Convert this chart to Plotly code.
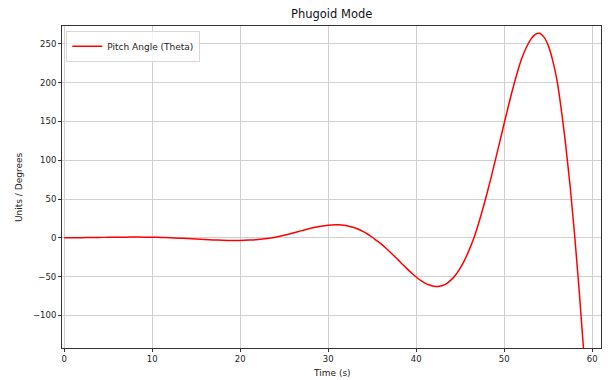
import plotly.graph_objects as go

# Phugoid pitch response samples
time_s = [0, 1, 2, 3, 4, 5, 6, 7, 8, 9, 10, 11, 12, 13, 14, 15, 16, 17, 18, 19,
          20, 21, 22, 23, 24, 25, 26, 27, 28, 29, 30, 31, 32, 33, 33.5, 34, 34.5,
          35, 35.5, 36, 36.5, 37, 37.5, 38, 38.5, 39, 39.5, 40, 40.5, 41, 41.5,
          42, 42.5, 43, 43.5, 44, 44.5, 45, 45.5, 46, 46.5, 47, 47.5, 48, 48.5,
          49, 49.5, 50, 50.5, 51, 51.5, 52, 52.5, 53, 53.5, 54, 54.5, 55, 55.5,
          56, 56.5, 57, 57.5, 58, 58.5, 59, 59.5]
theta_deg = [0.0, 0.05, 0.2, 0.35, 0.5, 0.65, 0.78, 0.88, 0.92, 0.88, 0.72, 0.45, 0.06,
             -0.4, -0.95, -1.56, -2.16, -2.72, -3.12, -3.36, -3.35, -2.94, -2.2, -1.0,
             0.8, 3.36, 6.24, 9.26, 12.21, 14.63, 16.34, 16.84, 15.8, 12.89, 10.67,
             7.88, 4.59, 0.75, -3.5, -7.9, -12.8, -18.0, -23.5, -29.1, -34.8, -40.3,
             -45.6, -50.5, -54.8, -58.3, -60.9, -62.4, -62.6, -61.4, -58.6, -53.9,
             -47.5, -39.1, -28.7, -16.2, -1.9, 15.3, 34.5, 55.2, 77.3, 100.4, 124.0,
             147.7, 170.9, 193.1, 213.5, 231.3, 245.0, 255.5, 262.0, 263.6, 259.0,
             248.0, 229.0, 203.0, 164.0, 118.5, 65.5, 4.0, -65.0, -141.0, -223.6]

x_ticks = [0, 10, 20, 30, 40, 50, 60]
y_ticks = [-100, -50, 0, 50, 100, 150, 200, 250]

FONT = "DejaVu Sans"
AXIS_COLOR = "#333333"
GRID_COLOR = "#d0d0d0"

fig = go.Figure()
fig.add_trace(go.Scatter(
    x=time_s, y=theta_deg, mode="lines",
    name="Pitch Angle (Theta)",
    line=dict(color="#ff0000", width=1.5, shape="spline", smoothing=1.0),
))

axis_common = dict(
    showline=True, linecolor=AXIS_COLOR, linewidth=1, mirror=True,
    ticks="outside", ticklen=3, tickwidth=1, tickcolor=AXIS_COLOR,
    showgrid=True, gridcolor=GRID_COLOR, gridwidth=1,
    zeroline=False,
    tickfont=dict(family=FONT, size=8.5, color="#222222"),
)

fig.update_layout(
    width=608, height=380,
    margin=dict(l=62, r=7, t=26, b=32),
    paper_bgcolor="white", plot_bgcolor="white",
    font=dict(family=FONT, size=9, color="#222222"),
    xaxis=dict(range=[-0.25, 61.0], tickvals=x_ticks, **axis_common),
    yaxis=dict(range=[-142, 273], tickvals=y_ticks, **axis_common),
    showlegend=True,
    legend=dict(
        x=0.008, y=0.985, xanchor="left", yanchor="top",
        bgcolor="rgba(255,255,255,0.8)", bordercolor="#d8d8d8", borderwidth=1,
        font=dict(family=FONT, size=9, color="#222222"),
        itemwidth=30, tracegroupgap=0,
    ),
    annotations=[
        dict(text="Phugoid Mode", xref="paper", yref="paper", x=0.5, y=1,
             xanchor="center", yanchor="bottom", yshift=3, showarrow=False,
             font=dict(family=FONT, size=11.5, color="#111111")),
        dict(text="Time (s)", xref="paper", yref="paper", x=0.5, y=0,
             xanchor="center", yanchor="top", yshift=-18, showarrow=False,
             font=dict(family=FONT, size=9, color="#222222")),
        dict(text="Units / Degrees", xref="paper", yref="paper", x=0, y=0.5,
             xanchor="right", yanchor="middle", xshift=-36, textangle=-90,
             showarrow=False, font=dict(family=FONT, size=9, color="#222222")),
    ],
)

fig.write_html("out.html")
